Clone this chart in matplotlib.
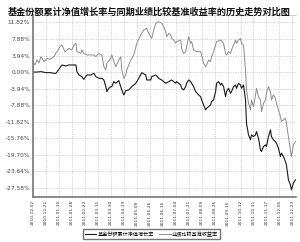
import numpy as np
import matplotlib
matplotlib.use("Agg")
import matplotlib.pyplot as plt

plt.rcParams['font.family'] = ['Noto Sans CJK SC', 'DejaVu Sans']

# trading-day index (about 13 per label) and cumulative return in %
fund_days = [0, 4, 8, 13, 18, 21, 23, 26, 29, 33, 36, 39, 43, 44, 46, 49, 51, 54, 58, 61,
             63, 66, 69, 71, 73, 74, 76, 78, 79, 81, 83, 86, 89, 91, 93, 96, 99, 103, 106, 109,
             113, 114, 118, 119, 123, 126, 129, 133, 136, 139, 143, 144, 148, 149, 151, 153, 154, 156, 158, 161,
             163, 166, 168, 169, 171, 173, 174, 176, 178, 179, 181, 183, 184, 186, 188, 189, 191, 193, 194, 196,
             198, 199, 201, 203, 204, 206, 208, 209, 211, 213, 214, 216, 218, 219, 221, 223, 224, 226, 228, 229,
             231, 233, 234, 236, 238, 239, 241, 243, 244, 246, 248, 249, 251, 253, 254, 256, 258, 259, 261, 263]
fund_vals = [0.00, 0.00, 0.10, -0.14, -0.14, -0.30, -0.30, 0.65, 1.69, 1.45, 1.69, 1.69, 1.69, 0.10, -0.70, -1.09, -1.73, -0.70, -0.70, -0.30,
             -1.09, -1.49, -1.49, -1.89, -3.47, -4.66, -3.87, -3.47, -3.47, -2.28, -2.68, -2.04, -4.27, -5.46, -4.43, -4.27, -3.47, -2.68, -1.49, -0.14,
             -0.70, -1.89, -1.89, -1.09, -0.70, -1.49, -1.89, -2.68, -2.28, -1.89, -2.68, -2.28, -3.08, -3.87, -4.27, -3.47, -2.68, -1.89, -2.28, -3.47,
             -4.66, -5.46, -5.85, -6.65, -7.84, -9.03, -8.63, -8.23, -7.84, -7.04, -6.65, -4.66, -2.68, -2.28, -3.08, -2.68, -3.47, -5.85, -4.66, -3.87,
             -5.06, -4.66, -3.47, -3.08, -3.87, -2.68, -3.08, -3.87, -3.08, -6.65, -12.20, -14.98, -16.17, -14.98, -15.38, -14.98, -14.19, -15.77, -18.55, -18.95,
             -17.76, -17.36, -17.76, -15.38, -13.79, -15.38, -16.17, -16.57, -16.97, -18.16, -20.14, -19.35, -20.14, -21.33, -22.12, -25.69, -26.88, -28.08, -26.49, -25.69]

bench_days = [0, 2, 4, 6, 8, 11, 14, 17, 21, 24, 27, 29, 32, 36, 39, 41, 43, 44, 48, 49,
              51, 54, 61, 63, 66, 68, 69, 71, 73, 74, 78, 79, 81, 83, 86, 88, 89, 91, 93, 94,
              98, 101, 104, 108, 111, 114, 116, 118, 119, 121, 123, 126, 129, 131, 133, 134, 136, 138, 139, 141,
              143, 144, 148, 149, 151, 153, 154, 156, 158, 159, 161, 164, 168, 169, 171, 173, 174, 176, 178, 179,
              181, 183, 184, 188, 191, 193, 194, 196, 198, 199, 201, 203, 204, 206, 208, 209, 211, 213, 214, 216,
              218, 219, 221, 223, 224, 226, 228, 229, 231, 233, 234, 236, 238, 239, 241, 243, 244, 246, 248, 249,
              251, 253, 254, 256, 258, 259, 261, 263]
bench_vals = [2.40, 1.70, 2.90, 2.20, 3.67, 2.48, 3.27, 3.03, 3.67, 4.86, 6.05, 6.45, 4.86, 5.65, 5.26, 6.45, 6.84, 4.86, 4.46, 5.26,
              4.46, 4.07, 4.07, 3.67, 4.46, 4.07, 4.07, 1.29, 0.50, 2.08, 3.27, 4.07, 2.48, 1.29, 2.88, 3.67, 0.50, -1.49, -0.70, 0.50,
              2.88, 4.07, 6.84, 8.83, 10.02, 10.42, 9.23, 8.43, 8.03, 10.02, 11.61, 12.00, 11.61, 10.81, 9.62, 8.43, 9.23, 8.83, 8.03, 7.64,
              6.84, 7.24, 7.64, 5.65, 4.46, 4.86, 6.05, 8.43, 6.84, 7.24, 5.26, 4.86, 4.86, 4.07, 2.08, 1.29, 1.69, 2.88, 2.48, 3.67,
              4.86, 6.45, 7.24, 7.64, 6.84, 4.46, 4.07, 4.86, 4.46, 5.26, 6.45, 7.64, 6.84, 7.64, 8.03, 6.84, 6.45, 0.50, -4.27, -7.44,
              -9.03, -6.65, -8.23, -5.46, -3.87, -5.85, -6.65, -9.43, -7.44, -6.65, -5.06, -3.47, -4.66, -6.65, -5.46, -6.25, -7.44, -9.03, -10.62, -11.81,
              -11.41, -11.01, -12.20, -15.38, -18.55, -20.14, -17.36, -16.57]

date_labels = ['2010-12-02', '2010-12-21', '2011-01-10', '2011-01-28', '2011-02-22', '2011-03-11',
               '2011-03-30', '2011-04-19', '2011-05-09', '2011-05-26', '2011-06-15', '2011-07-04',
               '2011-07-21', '2011-08-09', '2011-08-26', '2011-09-15', '2011-10-12', '2011-10-31',
               '2011-11-17', '2011-12-06', '2011-12-23']
y_ticks = [11.82, 7.88, 3.94, 0.00, -3.94, -7.88, -11.82, -15.76, -19.70, -23.64, -27.58]

title = '基金份额累计净值增长率与同期业绩比较基准收益率的历史走势对比图'
fund_name = '基金份额累计净值增长率'
bench_name = '业绩比较基准收益率'

fig = plt.figure(figsize=(3.0, 2.42), dpi=100)
ax = fig.add_axes([0.11, 0.184, 0.878, 0.754])

ax.plot(bench_days, bench_vals, color='#8c8c8c', lw=0.7, label=bench_name)
ax.plot(fund_days, fund_vals, color='#1a1a1a', lw=0.8, label=fund_name)

x_ticks = np.arange(len(date_labels)) * 13
ax.set_xticks(x_ticks)
ax.set_xticklabels(date_labels, rotation=90, fontsize=3.2, family='DejaVu Sans', color='#333333')
ax.set_yticks(y_ticks)
ax.set_yticklabels([f'{v:.2f}%' for v in y_ticks], fontsize=4.2, family='DejaVu Sans', color='#444444')
ax.set_xlim(0, 264)
ax.set_ylim(-29.9, 13.6)
ax.tick_params(length=0, pad=2)

ax.grid(True, ls=(0, (1, 1.5)), color='#b0b0b0', lw=0.5)
ax.spines['right'].set_visible(False)
ax.spines['top'].set_linestyle((0, (1, 1.5)))
ax.spines['top'].set_color('#b0b0b0')
ax.spines['top'].set_linewidth(0.5)
for s in ['left', 'bottom']:
    ax.spines[s].set_color('#777777')
    ax.spines[s].set_linewidth(1.2)

fig.text(0.497, 0.95, title, ha='center', va='center', fontsize=6.6, fontweight='bold', color='#111111')

handles, labels = ax.get_legend_handles_labels()
fig.legend(handles[::-1], labels[::-1], loc='center', bbox_to_anchor=(0.505, 0.032), ncol=2,
           fontsize=3.7, frameon=True, fancybox=False, edgecolor='#555555', handlelength=2.2,
           handletextpad=0.3, columnspacing=1.0, borderpad=0.4, borderaxespad=0)

fig.savefig('out.png', dpi=100)
